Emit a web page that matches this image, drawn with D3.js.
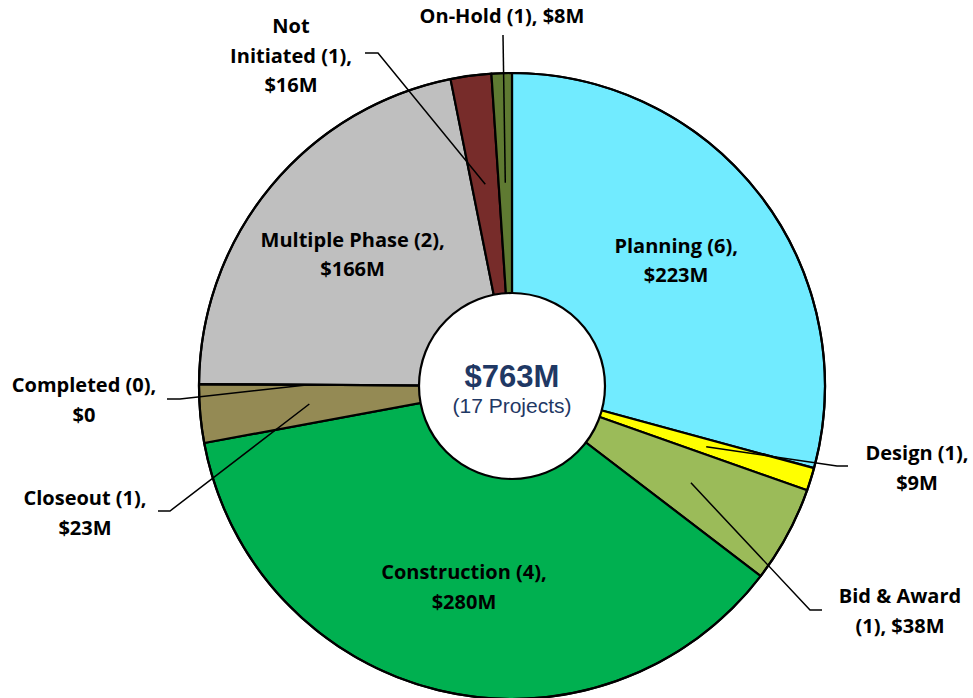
<!DOCTYPE html>
<html>
<head>
<meta charset="utf-8">
<script src="https://cdn.jsdelivr.net/npm/d3@7"></script>
<style>
  html, body { margin: 0; padding: 0; background: #fff; }
  svg { display: block; }
  .lbl { font-family: "Open Sans", Lato, sans-serif; font-weight: 700; font-size: 20px; fill: #000; }
</style>
</head>
<body>
<svg id="chart" width="973" height="698"></svg>
<script>
// ---- data ----
const categories = ["Planning", "Design", "Bid & Award", "Construction", "Closeout", "Completed", "Multiple Phase", "Not Initiated", "On-Hold"];
const projectCounts = [6, 1, 1, 4, 1, 0, 2, 1, 1];
const values = [223, 9, 38, 280, 23, 0, 166, 16, 8]; // $M
const colors = ["#71EBFF", "#FFFF00", "#9BBB59", "#00B050", "#948A54", "#4F81BD", "#BFBFBF", "#772C2A", "#5F7A32"];
const totalLabel = "$763M";
const projectsLabel = "(17 Projects)";
// label text lines
const labelLines = [
  ["Planning (6),", "$223M"],
  ["Design (1),", "$9M"],
  ["Bid & Award", "(1), $38M"],
  ["Construction (4),", "$280M"],
  ["Closeout (1),", "$23M"],
  ["Completed (0),", "$0"],
  ["Multiple Phase (2),", "$166M"],
  ["Not", "Initiated (1),", "$16M"],
  ["On-Hold (1), $8M"]
];

// ---- layout ----
const cx = 512, cy = 386, R = 313, innerR = 93;
const lineH = 29.5;
// outside label placements: center x, first baseline y, leader start [x,y], elbow [x,y]
const outside = {
  1: { x: 917, y: 460, start: [848, 466], elbow: [837, 466] },
  2: { x: 900, y: 603, start: [822, 610], elbow: [810, 610] },
  4: { x: 85, y: 505, start: [158, 511], elbow: [170, 511] },
  5: { x: 84, y: 392, start: [167, 399], elbow: [180, 399] },
  7: { x: 291, y: 33, start: [365, 53], elbow: [378, 53] },
  8: { x: 502, y: 23, start: [503, 35], elbow: null }
};

const svg = d3.select("#chart");
const g = svg.append("g").attr("transform", `translate(${cx},${cy})`);

const pie = d3.pie().sort(null).value(d => d.v).startAngle(0).endAngle(2 * Math.PI);
const data = categories.map((c, i) => ({ c, i, v: values[i] }));
const arcs = pie(data);
const arc = d3.arc().innerRadius(0).outerRadius(R);

g.selectAll("path.slice").data(arcs.filter(a => a.data.v > 0)).join("path")
  .attr("class", "slice")
  .attr("d", arc)
  .attr("fill", d => colors[d.data.i])
  .attr("stroke", "#000")
  .attr("stroke-width", 2.2)
  .attr("stroke-linejoin", "round");

// zero slice: a boundary line
arcs.filter(a => a.data.v === 0).forEach(a => {
  const ang = a.startAngle;
  g.append("line").attr("x1", 0).attr("y1", 0)
    .attr("x2", R * Math.sin(ang)).attr("y2", -R * Math.cos(ang))
    .attr("stroke", "#000").attr("stroke-width", 2.2);
});

// outline
g.append("circle").attr("r", R).attr("fill", "none").attr("stroke", "#000").attr("stroke-width", 2.2);

function polar(r, ang) { return [r * Math.sin(ang), -r * Math.cos(ang)]; }

// leader lines + outside labels
arcs.forEach(a => {
  const i = a.data.i;
  const mid = (a.startAngle + a.endAngle) / 2;
  const o = outside[i];
  if (o) {
    const end = polar(0.65 * R, mid);
    const pts = [[o.start[0] - cx, o.start[1] - cy]];
    if (o.elbow) pts.push([o.elbow[0] - cx, o.elbow[1] - cy]);
    pts.push(end);
    g.append("path").attr("d", d3.line()(pts))
      .attr("fill", "none").attr("stroke", "#000").attr("stroke-width", 1.5);
    const t = svg.append("text").attr("class", "lbl").attr("text-anchor", "middle");
    labelLines[i].forEach((ln, k) => {
      t.append("tspan").attr("x", o.x).attr("y", o.y + k * lineH).text(ln);
    });
  }
});

// inner circle
g.append("circle").attr("r", innerR).attr("fill", "#fff").attr("stroke", "#000").attr("stroke-width", 2.2);

// inside labels
arcs.forEach(a => {
  const i = a.data.i;
  if (outside[i]) return;
  const mid = (a.startAngle + a.endAngle) / 2;
  const p = polar(0.66 * R, mid);
  const n = labelLines[i].length;
  const t = svg.append("text").attr("class", "lbl").attr("text-anchor", "middle");
  labelLines[i].forEach((ln, k) => {
    t.append("tspan").attr("x", cx + p[0]).attr("y", cy + p[1] + 7 + (k - (n - 1) / 2) * lineH).text(ln);
  });
});

// center text
g.append("text").attr("text-anchor", "middle").attr("y", 1)
  .attr("font-family", "Liberation Sans, Arial, sans-serif").attr("font-weight", 700)
  .attr("font-size", 31).attr("fill", "#1F3864").text(totalLabel);
g.append("text").attr("text-anchor", "middle").attr("y", 27)
  .attr("font-family", "Liberation Sans, Arial, sans-serif")
  .attr("font-size", 21).attr("fill", "#1F3864").text(projectsLabel);
</script>
</body>
</html>
